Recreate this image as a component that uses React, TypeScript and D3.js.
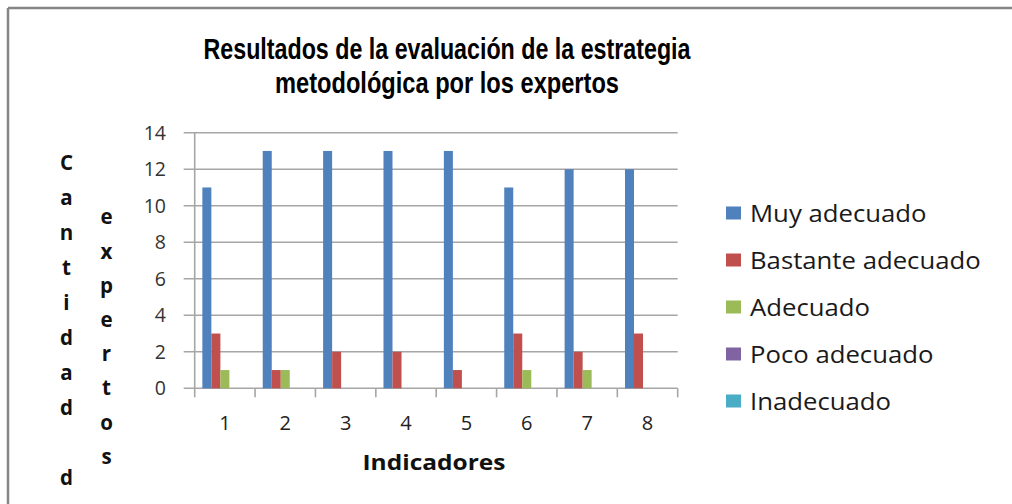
import React from "react";
import * as d3 from "d3";

const categories = ["1", "2", "3", "4", "5", "6", "7", "8"];
const seriesNames = ["Muy adecuado", "Bastante adecuado", "Adecuado", "Poco adecuado", "Inadecuado"];
const muyAdecuado = [11, 13, 13, 13, 13, 11, 12, 12];
const bastanteAdecuado = [3, 1, 2, 2, 1, 3, 2, 3];
const adecuado = [1, 1, 0, 0, 0, 1, 1, 0];
const pocoAdecuado = [0, 0, 0, 0, 0, 0, 0, 0];
const inadecuado = [0, 0, 0, 0, 0, 0, 0, 0];
const yTicks = [0, 2, 4, 6, 8, 10, 12, 14];
const titleLines = ["Resultados de la evaluación de la estrategia", "metodológica por los expertos"];
const yTitleCol1 = ["C", "a", "n", "t", "i", "d", "a", "d", "", "d"];
const yTitleCol2 = ["e", "x", "p", "e", "r", "t", "o", "s"];
const xTitle = "Indicadores";

const seriesValues = [muyAdecuado, bastanteAdecuado, adecuado, pocoAdecuado, inadecuado];
const colors = ["#4F81BD", "#C0504D", "#9BBB59", "#8064A2", "#4BACC6"];

export default function App() {
  const left = 194.7, right = 677.7, top = 132.7, bottom = 388.3;
  const x0 = d3.scaleBand<string>().domain(categories).range([left, right]).padding(0);
  const x1 = d3.scaleBand<string>().domain(seriesNames).range([0, x0.bandwidth()]).paddingInner(0).paddingOuter(0.85);
  const y = d3.scaleLinear().domain([0, 14]).range([bottom, top]);
  const font = "'Open Sans', sans-serif";
  const grid = "#a6a6a6";

  return (
    <svg width={1012} height={504} style={{ position: "absolute", left: 0, top: 0, background: "#fff" }}>
      <rect x={0} y={0} width={1012} height={504} fill="#fff" />
      {/* frame */}
      <line x1={8} y1={8} x2={1012} y2={8} stroke="#858585" strokeWidth={2.5} />
      <line x1={8} y1={8} x2={8} y2={504} stroke="#858585" strokeWidth={2.5} />

      {/* title */}
      {titleLines.map((t, i) => (
        <text key={i} x={447} y={58.5 + i * 34.5} textAnchor="middle" fontFamily="'Liberation Sans', Arial, sans-serif"
          fontWeight="bold" fontSize={29.5} fill="#000"
          textLength={i === 0 ? 487 : 344} lengthAdjust="spacingAndGlyphs">{t}</text>
      ))}

      {/* gridlines */}
      {yTicks.map((t) => (
        <g key={t}>
          <line x1={left - 11} x2={right} y1={y(t)} y2={y(t)} stroke={grid} strokeWidth={1.6} />
          <text x={166} y={y(t)} dy="0.36em" textAnchor="end" fontFamily={font} fontSize={19.5} fill="#333">{t}</text>
        </g>
      ))}
      {/* y axis line */}
      <line x1={left} x2={left} y1={top} y2={bottom} stroke={grid} strokeWidth={1.6} />
      {/* x ticks */}
      {categories.concat(["end"]).map((c, i) => {
        const xx = left + i * x0.step();
        return <line key={c + i} x1={xx} x2={xx} y1={bottom} y2={bottom + 9} stroke={grid} strokeWidth={1.6} />;
      })}

      {/* bars */}
      {seriesValues.map((vals, si) =>
        vals.map((v, ci) =>
          v > 0 ? (
            <rect key={si + "-" + ci} x={(x0(categories[ci]) as number) + (x1(seriesNames[si]) as number)} y={y(v)}
              width={x1.bandwidth()} height={bottom - y(v)} fill={colors[si]} />
          ) : null
        )
      )}

      {/* x labels */}
      {categories.map((c) => (
        <text key={c} x={(x0(c) as number) + x0.bandwidth() / 2} y={430} textAnchor="middle" fontFamily={font} fontSize={20} fill="#222">{c}</text>
      ))}
      <text x={434} y={470} textAnchor="middle" fontFamily={font} fontWeight="bold" fontSize={21} fill="#111"
        textLength={143} lengthAdjust="spacingAndGlyphs">{xTitle}</text>

      {/* y title stacked */}
      {yTitleCol1.map((ch, i) => (
        <text key={"a" + i} x={66.5} y={163 + i * 35} dy="0.36em" textAnchor="middle" fontFamily={font} fontWeight="bold" fontSize={20.5} fill="#111">{ch}</text>
      ))}
      {yTitleCol2.map((ch, i) => (
        <text key={"b" + i} x={106.5} y={217 + i * 34.2} dy="0.36em" textAnchor="middle" fontFamily={font} fontWeight="bold" fontSize={20.5} fill="#111">{ch}</text>
      ))}

      {/* legend */}
      {seriesNames.map((n, i) => (
        <g key={n} transform={`translate(726, ${213 + i * 47})`}>
          <rect x={0} y={-6.5} width={15} height={13} fill={colors[i]} />
          <text x={24} y={0} dy="0.36em" fontFamily={font} fontSize={24.5} fill="#1a1a1a"
            transform="scale(1.05,1)" style={{ transformBox: "fill-box", transformOrigin: "left" } as any}>{n}</text>
        </g>
      ))}
    </svg>
  );
}
